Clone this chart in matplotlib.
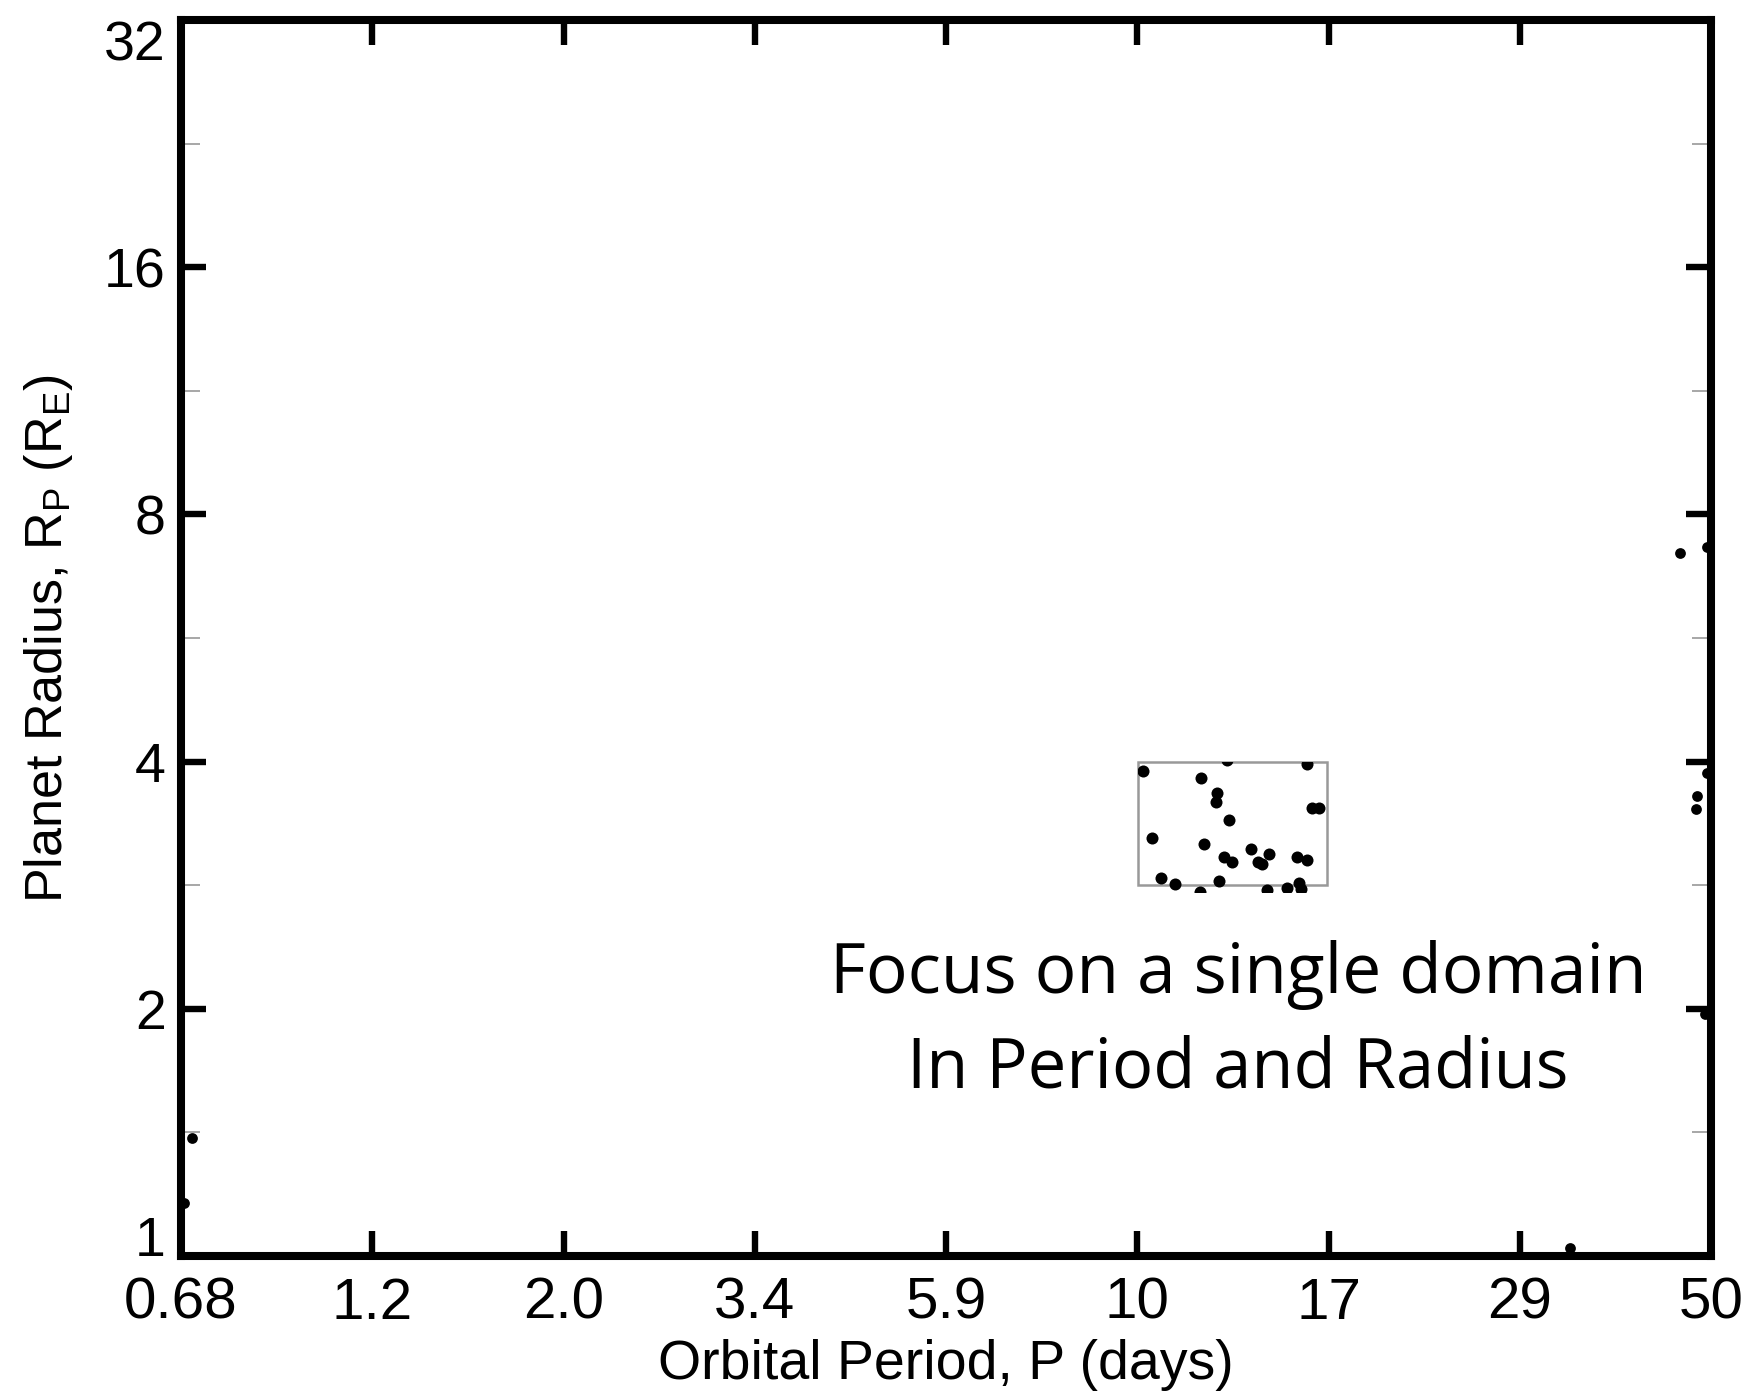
import numpy as np
import matplotlib
matplotlib.use("Agg")
import matplotlib.pyplot as plt
from matplotlib.patches import Rectangle
from matplotlib.ticker import FixedLocator, FixedFormatter, NullFormatter

# ---------------- data ----------------
x_tick_labels = ["0.68", "1.2", "2.0", "3.4", "5.9", "10", "17", "29", "50"]
x_limits = [0.68, 50]
y_tick_values = [1, 2, 4, 8, 16, 32]
y_tick_labels = ["1", "2", "4", "8", "16", "32"]
y_minor_values = [1.414, 2.828, 5.657, 11.31, 22.63]

# highlighted domain
box_period = [10, 17]
box_radius = [2.828, 4.0]

# planets inside the highlighted domain
box_p = [10.14, 12.85, 16.06, 11.93, 12.48, 12.45, 16.28, 16.64, 12.90, 10.40,
         12.05, 13.72, 12.74, 13.02, 14.46, 14.02, 14.16, 15.64, 16.09, 10.66,
         11.10, 12.55, 15.73, 11.90, 14.35, 15.19, 15.81]
box_r = [3.899, 4.018, 3.973, 3.824, 3.660, 3.575, 3.509, 3.509, 3.396, 3.232,
         3.175, 3.128, 3.058, 3.021, 3.084, 3.021, 3.002, 3.064, 3.036, 2.889,
         2.836, 2.864, 2.844, 2.777, 2.791, 2.804, 2.800]

# residual planets visible at the plot edges
edge_p = [45.8, 49.5, 49.5, 48.1, 47.9, 49.1, 0.7007, 0.685, 33.6]
edge_r = [7.17, 7.31, 3.872, 3.628, 3.503, 1.969, 1.391, 1.159, 1.024]

annotation_lines = ["Focus on a single domain", "In Period and Radius"]

# ---------------- figure ----------------
plt.rcParams['font.family'] = ['Liberation Sans', 'DejaVu Sans']
plt.rcParams['mathtext.fontset'] = 'custom'
plt.rcParams['mathtext.rm'] = 'Liberation Sans'
plt.rcParams['mathtext.it'] = 'Liberation Sans:italic'

fig = plt.figure(figsize=(17.49, 13.99), dpi=100)
ax = fig.add_axes([0.1035, 0.1022, 0.8748, 0.8835])

ax.set_xscale('log')
ax.set_yscale('log', base=2)
ax.set_xlim(*x_limits)
ax.set_ylim(y_tick_values[0], y_tick_values[-1])

# ticks
x_ticks = np.geomspace(x_limits[0], x_limits[1], len(x_tick_labels))
ax.xaxis.set_major_locator(FixedLocator(x_ticks))
ax.xaxis.set_major_formatter(FixedFormatter(x_tick_labels))
ax.xaxis.set_minor_locator(FixedLocator([]))
ax.xaxis.set_minor_formatter(NullFormatter())
ax.yaxis.set_major_locator(FixedLocator(y_tick_values))
ax.yaxis.set_major_formatter(FixedFormatter(y_tick_labels))
ax.yaxis.set_minor_locator(FixedLocator(y_minor_values))
ax.yaxis.set_minor_formatter(NullFormatter())

ax.tick_params(axis='both', which='major', direction='in', length=18, width=4.6,
               color='black', top=True, right=True)
ax.tick_params(axis='x', which='major', labelsize=42, pad=15)
ax.tick_params(axis='y', which='major', labelsize=40, pad=11)
ax.tick_params(axis='y', which='minor', direction='in', length=14, width=1.3,
               color='#a0a0a0', left=True, right=True)

# keep the end labels of the y axis inside the frame height
ymajor = ax.yaxis.get_major_ticks()
ymajor[0].label1.set_verticalalignment('baseline')
ymajor[-1].label1.set_verticalalignment('top')

for s in ax.spines.values():
    s.set_linewidth(5.8)
    s.set_color('black')

ax.set_xlabel("Orbital Period, P (days)", fontsize=40, labelpad=6)
ax.set_ylabel(r"Planet Radius, R$_\mathrm{P}$ (R$_\mathrm{E}$)", fontsize=37.5, labelpad=21)

# highlighted domain box
rect = Rectangle((box_period[0], box_radius[0]),
                 box_period[1] - box_period[0], box_radius[1] - box_radius[0],
                 fill=False, edgecolor='#999999', linewidth=1.8, zorder=3)
ax.add_patch(rect)
clip_rect = Rectangle((box_period[0], 2.775),
                      box_period[1] - box_period[0], box_radius[1] - 2.775,
                      transform=ax.transData, visible=False)
ax.add_patch(clip_rect)

sc = ax.scatter(box_p, box_r, s=75, color='black', linewidths=0, zorder=4)
sc.set_clip_path(clip_rect)

ax.scatter(edge_p, edge_r, s=60, color='black', linewidths=0, zorder=4)

# annotation
for line, ypos, fs in zip(annotation_lines, [0.2128, 0.1363], [50, 49.5]):
    ax.text(0.6908, ypos, line, transform=ax.transAxes,
            ha='center', va='baseline', fontsize=fs,
            family=['Open Sans', 'DejaVu Sans'])

fig.savefig("out.png", dpi=100, facecolor='white')
